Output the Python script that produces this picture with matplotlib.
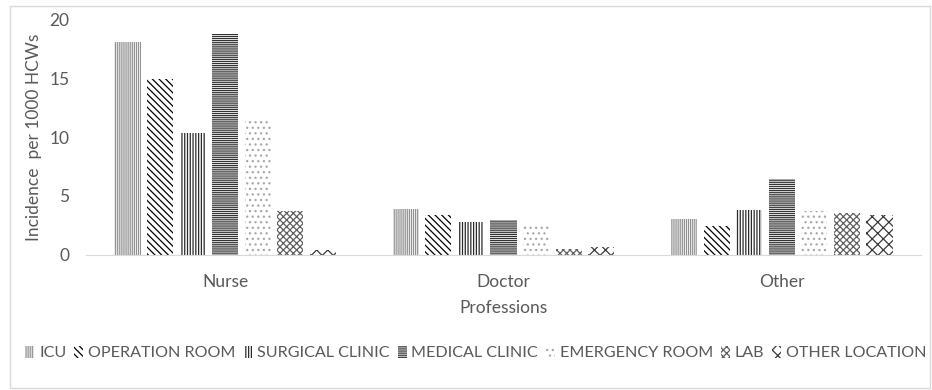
import numpy as np
import matplotlib.pyplot as plt
from matplotlib.patches import Rectangle

plt.rcParams['font.family'] = ['Lato', 'DejaVu Sans']
plt.rcParams['hatch.linewidth'] = 0.9

professions = ["Nurse", "Doctor", "Other"]
locations = ["ICU", "OPERATION ROOM", "SURGICAL CLINIC", "MEDICAL CLINIC",
             "EMERGENCY ROOM", "LAB", "OTHER LOCATION"]

# incidence per 1000 HCWs, one list per location (Nurse, Doctor, Other)
icu = [18.1, 3.9, 3.0]
operation_room = [15.0, 3.4, 2.4]
surgical_clinic = [10.4, 2.8, 3.8]
medical_clinic = [18.8, 2.9, 6.4]
emergency_room = [11.4, 2.6, 3.7]
lab = [3.7, 0.5, 3.5]
other_location = [0.4, 0.6, 3.4]

series = [icu, operation_room, surgical_clinic, medical_clinic,
          emergency_room, lab, other_location]

hatches = ['|' * 8, '\\' * 5, '|' * 6, '-' * 8, '...', 'x' * 5, 'xxx']
hatch_colors = ['#909090', '#000000', '#2a2a2a', '#333333',
                '#a8a8a8', '#606060', '#3a3a3a']

txt = '#595959'

fig = plt.figure(figsize=(9.32, 3.9), dpi=100)
fig.patches.append(Rectangle((10/932, 2/390), 920/932, 382/390,
                             transform=fig.transFigure, fill=False,
                             edgecolor='#d9d9d9', linewidth=1))
ax = fig.add_axes([86/932, 1-254.5/390, 835/932, 234.5/390])

x = np.arange(len(professions))
pitch = 0.117
width = 0.094
handles = []
for i, (vals, h, c) in enumerate(zip(series, hatches, hatch_colors)):
    offs = (i - 3) * pitch
    b = ax.bar(x + offs, vals, width, facecolor='white', edgecolor=c,
               hatch=h, linewidth=0, label=locations[i])
    handles.append(b)

ax.set_xlim(-0.5, 2.5)
ax.set_ylim(0, 20)
ax.set_yticks([0, 5, 10, 15, 20])
ax.set_xticks(x)
ax.set_xticklabels(professions)
ax.tick_params(length=0, labelsize=12.5, colors=txt, pad=14)
ax.tick_params(axis='y', pad=12)
for s in ['top', 'right', 'left']:
    ax.spines[s].set_visible(False)
ax.spines['bottom'].set_color('#d9d9d9')

ax.set_xlabel("Professions", fontsize=12.5, color=txt, labelpad=7)
ax.set_ylabel("Incidence  per 1000 HCWs", fontsize=12.5, color=txt, labelpad=5)

fig.legend(handles=handles, loc='center', bbox_to_anchor=(476/932, 1-353/390),
           ncol=7, frameon=False, fontsize=11.6, labelcolor=txt,
           handlelength=0.55, handleheight=0.8, handletextpad=0.3,
           columnspacing=0.5)

fig.savefig("out.png", dpi=100)
